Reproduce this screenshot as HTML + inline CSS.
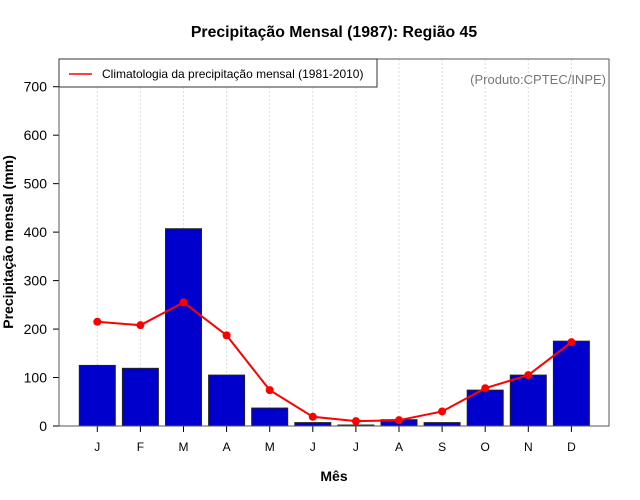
<!DOCTYPE html>
<html><head><meta charset="utf-8"><style>
body{margin:0;background:#fff;}
svg{display:block;font-family:"Liberation Sans",sans-serif;}
</style></head><body>
<svg id="chart" width="640" height="500" viewBox="0 0 640 500">
<rect x="0" y="0" width="640" height="500" fill="#fff"/>
<text x="334" y="37" text-anchor="middle" font-size="15.8" font-weight="bold">Precipitação Mensal (1987): Região 45</text>
<g id="grid"></g>
<g id="bars"></g>
<g id="line"></g>
<g id="yaxis"></g>
<g id="xaxis"></g>
<rect x="59" y="59" width="550" height="367" fill="none" stroke="#555" stroke-width="1"/>
<g>
<rect x="59" y="59" width="318" height="28" fill="#fff" stroke="#333" stroke-width="1"/>
<line x1="69" y1="74" x2="92" y2="74" stroke="#f00" stroke-width="1.5"/>
<text x="102" y="78" font-size="12" fill="#000">Climatologia da precipitação mensal (1981-2010)</text>
</g>
<text x="606" y="84" text-anchor="end" font-size="13" fill="#777">(Produto:CPTEC/INPE)</text>
<text x="334" y="481" text-anchor="middle" font-size="14" font-weight="bold">Mês</text>
<text transform="translate(13,242) rotate(-90)" text-anchor="middle" font-size="14" font-weight="bold">Precipitação mensal (mm)</text>
</svg>
<script>
const months = ['J','F','M','A','M','J','J','A','S','O','N','D'];
const observed = [125,119,407,105,37,7,2,13,7,74,105,175];
const climatology = [215,208,255,187,74,19,10,12,30,78,105,173];
const yTicks = [0,100,200,300,400,500,600,700];
const NS='http://www.w3.org/2000/svg';
function xPos(i){return 97.3+i*43.1;}
function yPos(v){return 426-v*0.4847;}
function mk(tag,attrs,parent){const e=document.createElementNS(NS,tag);for(const k in attrs)e.setAttribute(k,attrs[k]);parent.appendChild(e);return e;}
const grid=document.getElementById('grid'),bars=document.getElementById('bars'),line=document.getElementById('line'),ya=document.getElementById('yaxis'),xa=document.getElementById('xaxis');
months.forEach((m,i)=>{
  const g=mk('line',{x1:xPos(i),x2:xPos(i),y1:59,y2:426,stroke:'#ddd','stroke-dasharray':'2,2'},grid);
  
  
  const b=mk('rect',{x:xPos(i)-18,y:yPos(observed[i]),width:36,height:426-yPos(observed[i]),fill:'#0000cc',stroke:'#222','stroke-width':1},bars);
  
  
  const t=mk('line',{x1:xPos(i),x2:xPos(i),y1:426,y2:432,stroke:'#000'},xa);
  
  
  const l=mk('text',{x:xPos(i),y:451,'text-anchor':'middle','font-size':12},xa);
  l.textContent=m;
  
  
});
const pl=mk('polyline',{points:climatology.map((v,i)=>xPos(i)+','+yPos(v)).join(' '),fill:'none',stroke:'#f00','stroke-width':2},line);


climatology.forEach((v,i)=>{
  const c=mk('circle',{cx:xPos(i),cy:yPos(v),r:4,fill:'#f00'},line);
  
  
});
const ax=mk('line',{x1:59,x2:59,y1:yPos(0),y2:yPos(700),stroke:'#000'},ya);


yTicks.forEach(v=>{
  const t=mk('line',{x1:53,x2:59,y1:yPos(v),y2:yPos(v),stroke:'#000'},ya);
  
  
  const l=mk('text',{x:47,y:yPos(v)+5,'text-anchor':'end','font-size':14},ya);
  l.textContent=v;
  
  
});
</script>
</body></html>
